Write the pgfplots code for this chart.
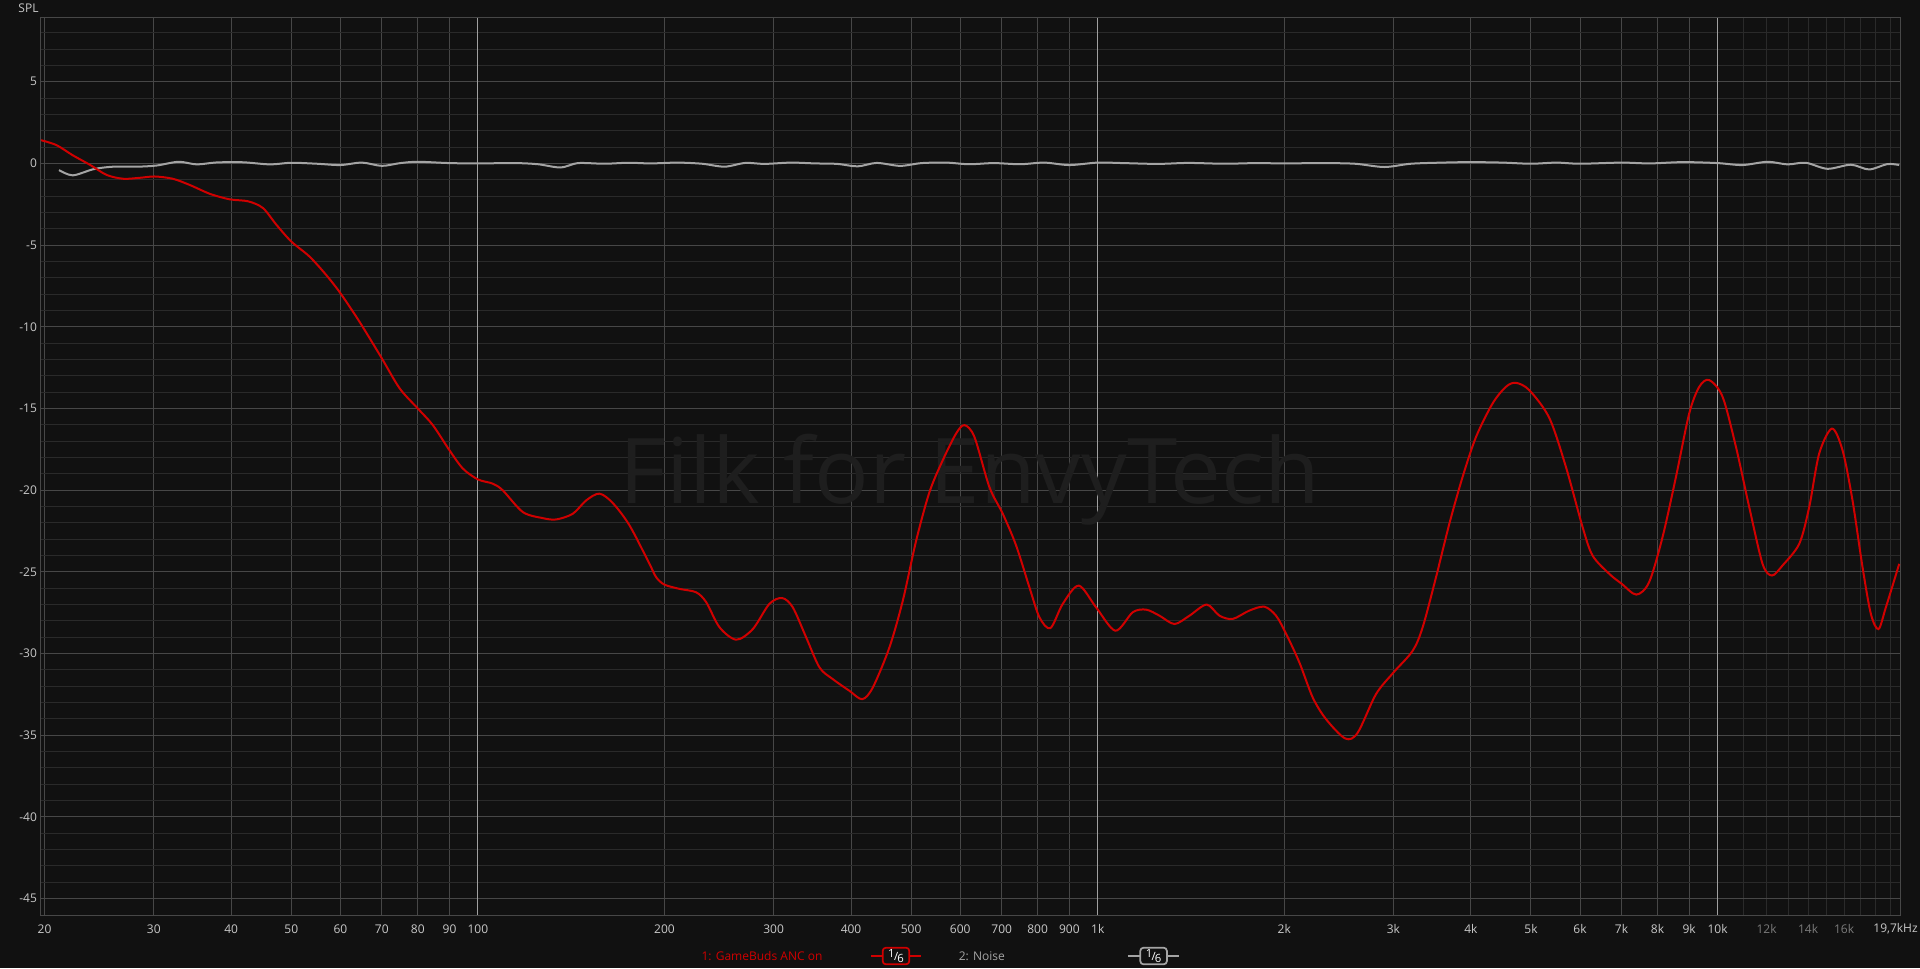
\documentclass[border=0pt]{standalone}
\usepackage{pgfplots}
\pgfplotsset{compat=1.18}
\usepackage{fontspec}
\setmainfont{Open Sans}

\definecolor{bg}{HTML}{111111}
\definecolor{gridmaj}{HTML}{474747}
\definecolor{gridmin}{HTML}{2A2A2A}
\definecolor{griddec}{HTML}{A0A0A0}
\definecolor{lab}{HTML}{C8C8C8}
\definecolor{labdim}{HTML}{7A7A7A}
\definecolor{anc}{HTML}{D00000}
\definecolor{noise}{HTML}{A4A4A4}
\definecolor{wmark}{HTML}{1E1E1E}

\newcommand{\sixth}{{\fontsize{8.5}{8.5}\selectfont\raisebox{1.8pt}{1}\kern-0.4pt/\kern-0.7pt\raisebox{-1.4pt}{6}}}

\begin{document}
\begin{tikzpicture}
\fill[bg, use as bounding box] (-30.375pt,-39.75pt) rectangle (1409.6pt,686.25pt);

\begin{axis}[
  scale only axis,
  width=1394.6pt, height=672.75pt,
  xmode=log,
  xmin=19.7, xmax=19700,
  ymin=-46, ymax=8.9,
  clip mode=individual,
  axis line style={draw=gridmaj, line width=0.75pt},
  grid=both,
  major grid style={draw=gridmaj, line width=0.75pt},
  minor grid style={draw=gridmin, line width=0.75pt},
  xtick={20,30,40,50,60,70,80,90,100,200,300,400,500,600,700,800,900,1000,2000,3000,4000,5000,6000,7000,8000,9000,10000},
  xticklabels={20,30,40,50,60,70,80,90,100,200,300,400,500,600,700,800,900,1k,2k,3k,4k,5k,6k,7k,8k,9k,10k},
  minor xtick={11000,12000,13000,14000,15000,16000,17000,18000,19000},
  ytick={-45,-40,...,5},
  yticklabels={-45,-40,-35,-30,-25,-20,-15,-10,-5,0,5},
  minor ytick={-46,-45,...,8},
  major tick length=0pt, minor tick length=0pt,
  tick style={draw=none},
  tick label style={font=\fontsize{9}{10}\selectfont, text=lab},
  xticklabel style={anchor=center, yshift=-10.5pt, inner sep=0pt},
  yticklabel style={anchor=east, xshift=-2.5pt, inner sep=0pt},
]

% decade grid lines
\foreach \d in {100,1000,10000}{
  \edef\tmp{\noexpand\draw[griddec, line width=0.75pt] (axis cs:\d,-46) -- (axis cs:\d,8.9);}
  \tmp
}

\node[text=wmark, font=\fontsize{68}{68}\selectfont] at (rel axis cs:0.5,0.485) {Filk for EnvyTech};

% 2: Noise
\addplot[noise, line width=1.5pt, smooth] coordinates {
(21.1,-0.41) (22.2,-0.73) (24.0,-0.35) (25.8,-0.2) (28.2,-0.2) (30.3,-0.13)
(32.9,0.1) (35.2,-0.06) (37.9,0.06) (41.8,0.07) (46.2,-0.06) (50,0.04)
(55,-0.02) (60,-0.1) (65,0.05) (70,-0.15) (75,0.02) (80,0.1) (90,0.02)
(100,0.0) (115,0.02) (125,-0.05) (136,-0.25) (145,0.02) (160,-0.02) (175,0.04)
(190,0.0) (210,0.05) (230,-0.02) (250,-0.2) (270,0.03) (290,-0.03) (320,0.05)
(350,0.0) (380,-0.03) (410,-0.18) (440,0.03) (480,-0.15) (520,0.02) (570,0.05)
(620,-0.05) (680,0.02) (750,-0.05) (820,0.05) (900,-0.1) (1000,0.05) (1100,0.02)
(1250,-0.03) (1400,0.03) (1600,-0.02) (1800,0.02) (2000,0.0) (2300,0.02)
(2600,-0.02) (2900,-0.22) (3200,-0.02) (3600,0.05) (4000,0.08) (4500,0.05)
(5000,-0.02) (5500,0.05) (6000,-0.02) (7000,0.05) (7772,0.0) (8792,0.08)
(10000,0.02) (10970,-0.1) (12040,0.1) (12970,-0.06) (13880,0.04) (15040,-0.33)
(16410,-0.08) (17560,-0.37) (18790,-0.04) (19640,-0.1)
};

% 1: GameBuds ANC on
\addplot[anc, line width=1.5pt, smooth] coordinates {
(19.74,1.42) (20.9,1.12) (22.2,0.5) (23.7,-0.1) (25.2,-0.71) (26.8,-0.94)
(28.5,-0.88) (30.1,-0.8) (32.2,-0.94) (34.3,-1.32) (37.0,-1.87) (39.8,-2.2)
(42.6,-2.32) (45.0,-2.73) (47.3,-3.75) (50.0,-4.78) (53.5,-5.70) (56.9,-6.82)
(60,-7.94) (64.4,-9.68) (70,-11.93) (74.8,-13.77) (80,-15.0) (84.6,-16.02)
(90,-17.56) (94.6,-18.68) (100,-19.34) (105.7,-19.60) (109.7,-20.01)
(118.2,-21.34) (127.3,-21.71) (133.8,-21.79) (142.3,-21.44) (149.6,-20.62)
(157.1,-20.21) (165.1,-20.79) (175.7,-22.16) (189.2,-24.51) (194.0,-25.33)
(200,-25.78) (211.5,-26.04) (225,-26.25) (233.6,-26.86) (245.4,-28.39)
(261.1,-29.15) (277.7,-28.50) (295.3,-26.96) (309.7,-26.6) (322.2,-27.17)
(338.6,-29.01) (355.8,-30.85) (373.7,-31.56) (397.7,-32.28) (416.9,-32.79)
(433.6,-32.08) (461.3,-29.62) (484.8,-26.76) (509.5,-23.08) (535.3,-20.11)
(562.3,-18.17) (591.0,-16.53) (609.6,-16.02) (632.6,-16.74) (668.8,-19.81)
(702.8,-21.44) (738.5,-23.38) (776,-25.94) (805.4,-27.78) (838.9,-28.44)
(878.1,-26.96) (932,-25.84) (994,-27.17) (1068,-28.60) (1139,-27.47)
(1197,-27.31) (1258,-27.68) (1330,-28.19) (1406,-27.68) (1499,-27.0)
(1572,-27.68) (1651,-27.88) (1756,-27.37) (1857,-27.13) (1940,-27.68)
(2014,-28.80) (2115,-30.54) (2223,-32.69) (2336,-34.02) (2509,-35.20)
(2627,-34.84) (2812,-32.48) (3000,-31.16) (3222,-29.83) (3344,-28.39)
(3514,-25.33) (3692,-22.06) (3879,-19.19) (4077,-16.74) (4336,-14.69)
(4557,-13.67) (4729,-13.43) (4970,-13.88) (5353,-15.58) (5694,-18.58)
(6058,-22.26) (6286,-24.0) (6689,-25.12) (7010,-25.74) (7397,-26.39)
(7756,-25.63) (8152,-22.87) (8568,-19.19) (9000,-15.31) (9344,-13.67)
(9696,-13.26) (10188,-14.28) (10708,-17.35) (11248,-21.03) (11820,-24.51)
(12239,-25.22) (12728,-24.61) (13546,-23.28) (14057,-21.03) (14588,-17.76)
(15296,-16.23) (15911,-17.56) (16510,-20.62) (17136,-24.71) (17678,-27.58)
(18185,-28.50) (18690,-27.17) (19640,-24.51)
};

\foreach \f/\t in {12000/12k,14000/14k,16000/16k}{
  \edef\tmp{\noexpand\node[text=labdim, font=\noexpand\fontsize{9}{10}\noexpand\selectfont, inner sep=0pt] at (axis cs:\f,-46) [yshift=-10.5pt] {\t};}
  \tmp
}
\end{axis}

\node[text=lab, font=\fontsize{9}{10}\selectfont, inner sep=0pt] at (1391.25pt,-10.5pt) {19,7kHz};
\node[text=lab, font=\fontsize{9}{10}\selectfont, inner sep=0pt] at (-9pt,680.25pt) {SPL};

% legend
\node[text=anc, font=\fontsize{9}{10}\selectfont, inner sep=0pt] at (541.1pt,-30.75pt) {1: GameBuds ANC on};
\draw[anc, line width=1.1pt] (622.9pt,-30.75pt) -- (660.4pt,-30.75pt);
\node[draw=anc, line width=1.3pt, fill=bg, rounded corners=2.5pt, minimum width=20pt, minimum height=12.5pt, inner sep=0pt, text=white] at (641.6pt,-30.75pt) {\sixth};
\node[text=noise, font=\fontsize{9}{10}\selectfont, inner sep=0pt] at (706pt,-30.75pt) {2: Noise};
\draw[noise, line width=1.1pt] (815.6pt,-30.75pt) -- (853.9pt,-30.75pt);
\node[draw=noise, line width=1.3pt, fill=bg, rounded corners=2.5pt, minimum width=20pt, minimum height=12.5pt, inner sep=0pt, text=white] at (834.8pt,-30.75pt) {\sixth};
\end{tikzpicture}
\end{document}
